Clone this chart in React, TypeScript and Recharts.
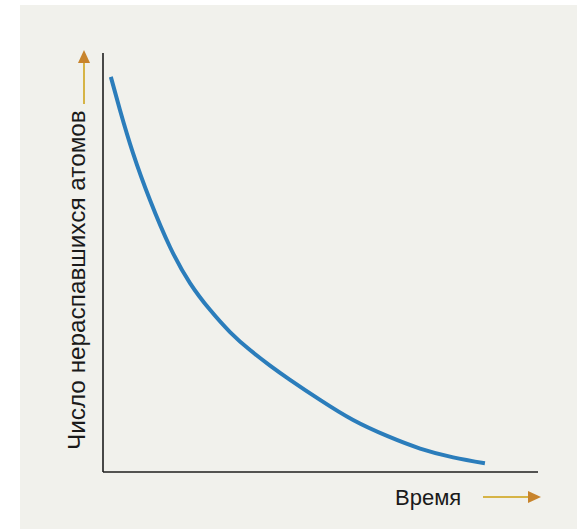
import React from 'react';
import { LineChart, Line, XAxis, YAxis } from 'recharts';

// time (arbitrary units) vs. remaining atoms (arbitrary units)
const time = [1.8, 3.9, 6.9, 10.8, 15.4, 20.0, 24.6, 29.2, 33.8, 38.4, 43.0, 49.9, 57.5, 65.3, 72.9, 80.5, 87.8];
const atoms = [94.3, 86.4, 76.1, 64.9, 53.7, 45.1, 38.7, 33.4, 29.1, 25.4, 22.0, 17.2, 12.4, 8.6, 5.6, 3.5, 2.1];

const xLabel = 'Время';
const yLabel = 'Число нераспавшихся атомов';

const data = time.map((t, i) => ({ t, n: atoms[i] }));

const ARROW_LINE = '#d6b446';
const ARROW_HEAD = '#c8842c';
const FONT = '"Liberation Sans", Arial, sans-serif';

const YAxisLabel = ({ viewBox }: any) => {
  const { x, y, height } = viewBox;
  const cx = x - 17;
  const bottom = y + height - 22;
  return (
    <g>
      <text
        x={cx}
        y={bottom}
        transform={`rotate(-90 ${cx} ${bottom})`}
        fontFamily={FONT}
        fontSize={24.3}
        fill="#1a1a1a"
      >
        {yLabel}
      </text>
      <line x1={cx - 1} y1={y + 51} x2={cx - 1} y2={y + 8} stroke={ARROW_LINE} strokeWidth={2} />
      <path d={`M ${cx - 7} ${y + 10} L ${cx + 5} ${y + 10} L ${cx - 1} ${y - 3} Z`} fill={ARROW_HEAD} />
    </g>
  );
};

const XAxisLabel = ({ viewBox }: any) => {
  const { x, y, width } = viewBox;
  const base = y + 33;
  return (
    <g>
      <text x={x + 292} y={base} fontFamily={FONT} fontSize={22} fill="#1a1a1a">
        {xLabel}
      </text>
      <line x1={x + 380} y1={base - 8} x2={x + width - 8} y2={base - 8} stroke={ARROW_LINE} strokeWidth={2} />
      <path
        d={`M ${x + width - 10} ${base - 14} L ${x + width - 10} ${base - 2} L ${x + width + 3} ${base - 8} Z`}
        fill={ARROW_HEAD}
      />
    </g>
  );
};

export default function App() {
  return (
    <div style={{ position: 'absolute', left: 0, top: 0, width: 577, height: 530, background: '#ffffff' }}>
      <div
        style={{ position: 'absolute', left: 20, top: 5, width: 557, height: 524, background: '#f1f1ec' }}
      />
      <div style={{ position: 'absolute', left: 0, top: 0 }}>
        <LineChart width={577} height={530} data={data} margin={{ top: 53, right: 39, bottom: 57, left: 102 }}>
          <XAxis
            type="number"
            dataKey="t"
            domain={[0, 100]}
            height={1}
            tick={false}
            tickLine={false}
            axisLine={{ stroke: '#1e1e1e', strokeWidth: 1.6 }}
            label={{ content: XAxisLabel }}
          />
          <YAxis
            type="number"
            domain={[0, 100]}
            width={1}
            tick={false}
            tickLine={false}
            axisLine={{ stroke: '#1e1e1e', strokeWidth: 1.6 }}
            label={{ content: YAxisLabel }}
          />
          <Line
            type="natural"
            dataKey="n"
            stroke="#2b7dbb"
            strokeWidth={4}
            dot={false}
            isAnimationActive={false}
          />
        </LineChart>
      </div>
    </div>
  );
}
